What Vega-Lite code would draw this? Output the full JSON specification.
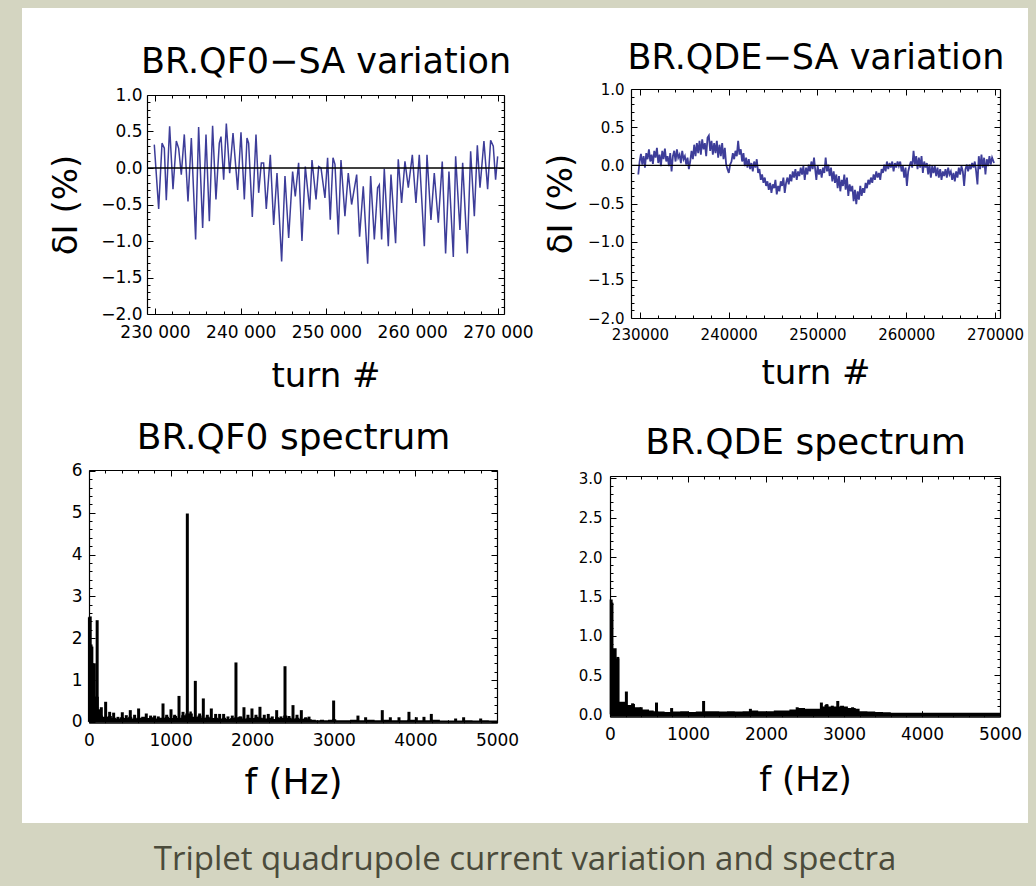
{
"$schema":"https://vega.github.io/schema/vega-lite/v6.json",
"width":1006,"height":815,
"autosize":{"type":"none"},
"padding":{"left":22,"top":8,"right":8,"bottom":63},
"background":"#d4d5c1",
"config":{"view":{"fill":"white","stroke":null},
 "axis":{"grid":false,"labelFont":"DejaVu Sans","titleFont":"DejaVu Sans","titleFontWeight":"normal","domainColor":"#000","tickColor":"#000","labelColor":"#000","titleColor":"#000","labelFlush":false,"labelOverlap":false,"tickWidth":1,"domainWidth":1.2}},
"title":{"text":"Triplet quadrupole current variation and spectra","orient":"bottom","frame":"group","anchor":"middle","offset":47,"baseline":"alphabetic","font":"Open Sans","fontSize":33,"fontWeight":"normal","color":"#4b4b3b"},
"datasets":{
"qf0":[{"t":229920,"v":0.32},{"t":230430,"v":-0.56},{"t":230820,"v":0.34},{"t":231090,"v":0.27},{"t":231320,"v":-0.44},{"t":231710,"v":0.57},{"t":232100,"v":-0.29},{"t":232490,"v":0.37},{"t":232760,"v":0.27},{"t":233070,"v":-0.09},{"t":233420,"v":0.46},{"t":233850,"v":-0.46},{"t":234240,"v":0.41},{"t":234740,"v":-0.98},{"t":235090,"v":0.56},{"t":235560,"v":-0.82},{"t":235950,"v":0.46},{"t":236340,"v":-0.73},{"t":236720,"v":0.58},{"t":237110,"v":-0.43},{"t":237500,"v":0.34},{"t":237700,"v":0.43},{"t":238010,"v":-0.16},{"t":238320,"v":0.61},{"t":238710,"v":-0.07},{"t":239100,"v":0.48},{"t":239640,"v":-0.3},{"t":240030,"v":0.49},{"t":240420,"v":-0.43},{"t":240730,"v":0.41},{"t":240920,"v":0.34},{"t":241350,"v":-0.67},{"t":241780,"v":0.46},{"t":242090,"v":-0.34},{"t":242400,"v":0.07},{"t":242670,"v":0.07},{"t":242980,"v":-0.56},{"t":243450,"v":0.18},{"t":243840,"v":-0.78},{"t":244230,"v":-0.07},{"t":244770,"v":-1.28},{"t":245160,"v":-0.11},{"t":245590,"v":-0.96},{"t":246050,"v":-0.05},{"t":246360,"v":-0.39},{"t":246750,"v":0.07},{"t":247140,"v":-1.0},{"t":247530,"v":0.02},{"t":248040,"v":-0.57},{"t":248310,"v":0.11},{"t":248780,"v":-0.43},{"t":249090,"v":0.02},{"t":249360,"v":0.0},{"t":249820,"v":-0.41},{"t":250130,"v":0.14},{"t":250440,"v":-0.71},{"t":250760,"v":0.14},{"t":250990,"v":0.05},{"t":251380,"v":-0.91},{"t":251690,"v":0.11},{"t":252150,"v":-0.66},{"t":252540,"v":-0.07},{"t":252930,"v":-0.5},{"t":253520,"v":-0.09},{"t":253860,"v":-0.94},{"t":254290,"v":-0.25},{"t":254800,"v":-1.31},{"t":255150,"v":-0.11},{"t":255580,"v":-0.98},{"t":255960,"v":-0.27},{"t":256160,"v":-0.23},{"t":256430,"v":-0.98},{"t":256740,"v":-0.01},{"t":257210,"v":-1.07},{"t":257520,"v":-0.09},{"t":258060,"v":-1.03},{"t":258370,"v":0.12},{"t":258760,"v":-0.48},{"t":259150,"v":0.09},{"t":259540,"v":-0.27},{"t":260010,"v":0.18},{"t":260430,"v":-0.48},{"t":260820,"v":0.18},{"t":261410,"v":-1.07},{"t":261720,"v":0.18},{"t":262180,"v":-0.71},{"t":262570,"v":-0.07},{"t":263040,"v":-0.75},{"t":263500,"v":0.09},{"t":263890,"v":-1.17},{"t":264280,"v":-0.05},{"t":264790,"v":-1.22},{"t":265060,"v":0.16},{"t":265560,"v":-0.85},{"t":265880,"v":0.07},{"t":266420,"v":-1.17},{"t":266810,"v":0.23},{"t":267240,"v":-0.66},{"t":267590,"v":0.31},{"t":267900,"v":-0.27},{"t":268360,"v":0.37},{"t":268790,"v":-0.29},{"t":269140,"v":0.38},{"t":269450,"v":0.3},{"t":269720,"v":-0.16},{"t":269960,"v":0.16}],
"qde":[{"t":229810,"v":-0.12},{"t":229960,"v":0.05},{"t":230110,"v":0.15},{"t":230260,"v":0.01},{"t":230410,"v":0.12},{"t":230560,"v":-0.03},{"t":230710,"v":0.16},{"t":230860,"v":0.08},{"t":231010,"v":0.21},{"t":231160,"v":0.05},{"t":231310,"v":0.14},{"t":231460,"v":0.02},{"t":231610,"v":0.19},{"t":231760,"v":0.1},{"t":231910,"v":0.23},{"t":232060,"v":0.03},{"t":232210,"v":0.14},{"t":232360,"v":-0.01},{"t":232510,"v":0.19},{"t":232660,"v":0.08},{"t":232810,"v":0.22},{"t":232960,"v":0.05},{"t":233110,"v":0.12},{"t":233260,"v":-0.01},{"t":233410,"v":0.16},{"t":233560,"v":-0.08},{"t":233710,"v":0.12},{"t":233860,"v":0.19},{"t":234010,"v":0.05},{"t":234160,"v":0.21},{"t":234310,"v":0.1},{"t":234460,"v":0.14},{"t":234610,"v":0.03},{"t":234760,"v":0.19},{"t":234910,"v":0.08},{"t":235060,"v":0.12},{"t":235210,"v":0.01},{"t":235360,"v":0.1},{"t":235510,"v":-0.05},{"t":235660,"v":0.05},{"t":235810,"v":0.19},{"t":235960,"v":0.08},{"t":236110,"v":0.27},{"t":236260,"v":0.12},{"t":236410,"v":0.29},{"t":236560,"v":0.16},{"t":236710,"v":0.32},{"t":236860,"v":0.14},{"t":237010,"v":0.34},{"t":237160,"v":0.21},{"t":237310,"v":0.29},{"t":237460,"v":0.12},{"t":237610,"v":0.36},{"t":237760,"v":0.39},{"t":237910,"v":0.19},{"t":238060,"v":0.32},{"t":238210,"v":0.14},{"t":238360,"v":0.29},{"t":238510,"v":0.16},{"t":238660,"v":0.32},{"t":238810,"v":0.1},{"t":238960,"v":0.27},{"t":239110,"v":0.12},{"t":239260,"v":0.29},{"t":239410,"v":0.08},{"t":239560,"v":0.23},{"t":239710,"v":0.01},{"t":239860,"v":-0.05},{"t":240010,"v":-0.1},{"t":240160,"v":0.01},{"t":240310,"v":0.05},{"t":240460,"v":0.16},{"t":240610,"v":0.08},{"t":240760,"v":0.19},{"t":240910,"v":0.12},{"t":241060,"v":0.32},{"t":241210,"v":0.14},{"t":241360,"v":0.21},{"t":241510,"v":0.05},{"t":241660,"v":0.16},{"t":241810,"v":-0.01},{"t":241960,"v":0.1},{"t":242110,"v":-0.03},{"t":242260,"v":0.08},{"t":242410,"v":-0.05},{"t":242560,"v":0.03},{"t":242710,"v":-0.08},{"t":242860,"v":0.05},{"t":243010,"v":-0.03},{"t":243160,"v":0.08},{"t":243310,"v":-0.1},{"t":243460,"v":-0.05},{"t":243610,"v":-0.19},{"t":243760,"v":-0.12},{"t":243910,"v":-0.23},{"t":244060,"v":-0.16},{"t":244210,"v":-0.27},{"t":244360,"v":-0.21},{"t":244510,"v":-0.32},{"t":244660,"v":-0.23},{"t":244810,"v":-0.36},{"t":244960,"v":-0.25},{"t":245110,"v":-0.3},{"t":245260,"v":-0.19},{"t":245410,"v":-0.38},{"t":245560,"v":-0.27},{"t":245710,"v":-0.34},{"t":245860,"v":-0.21},{"t":246010,"v":-0.27},{"t":246160,"v":-0.16},{"t":246310,"v":-0.36},{"t":246460,"v":-0.23},{"t":246610,"v":-0.16},{"t":246760,"v":-0.25},{"t":246910,"v":-0.12},{"t":247060,"v":-0.21},{"t":247210,"v":-0.08},{"t":247360,"v":-0.16},{"t":247510,"v":-0.05},{"t":247660,"v":-0.19},{"t":247810,"v":-0.08},{"t":247960,"v":-0.14},{"t":248110,"v":-0.03},{"t":248260,"v":-0.12},{"t":248410,"v":-0.01},{"t":248560,"v":-0.19},{"t":248710,"v":-0.03},{"t":248860,"v":-0.12},{"t":249010,"v":0.01},{"t":249160,"v":-0.08},{"t":249310,"v":0.05},{"t":249460,"v":-0.05},{"t":249610,"v":0.1},{"t":249720,"v":-0.03},{"t":249870,"v":-0.19},{"t":250020,"v":-0.01},{"t":250170,"v":-0.12},{"t":250320,"v":-0.05},{"t":250470,"v":-0.16},{"t":250620,"v":-0.03},{"t":250770,"v":-0.1},{"t":250920,"v":0.1},{"t":251070,"v":-0.08},{"t":251220,"v":0.01},{"t":251370,"v":-0.14},{"t":251520,"v":-0.03},{"t":251670,"v":-0.21},{"t":251820,"v":-0.08},{"t":251970,"v":-0.23},{"t":252120,"v":-0.12},{"t":252270,"v":-0.3},{"t":252420,"v":-0.14},{"t":252570,"v":-0.34},{"t":252720,"v":-0.19},{"t":252870,"v":-0.27},{"t":253020,"v":-0.12},{"t":253170,"v":-0.32},{"t":253320,"v":-0.16},{"t":253470,"v":-0.4},{"t":253620,"v":-0.25},{"t":253770,"v":-0.34},{"t":253920,"v":-0.27},{"t":254070,"v":-0.47},{"t":254220,"v":-0.32},{"t":254370,"v":-0.51},{"t":254520,"v":-0.34},{"t":254670,"v":-0.45},{"t":254820,"v":-0.27},{"t":254970,"v":-0.4},{"t":255120,"v":-0.3},{"t":255270,"v":-0.36},{"t":255420,"v":-0.23},{"t":255570,"v":-0.3},{"t":255720,"v":-0.19},{"t":255870,"v":-0.25},{"t":256020,"v":-0.16},{"t":256170,"v":-0.23},{"t":256320,"v":-0.12},{"t":256470,"v":-0.19},{"t":256620,"v":-0.08},{"t":256770,"v":-0.16},{"t":256920,"v":-0.1},{"t":257070,"v":-0.19},{"t":257220,"v":-0.05},{"t":257370,"v":-0.1},{"t":257520,"v":0.01},{"t":257670,"v":-0.08},{"t":257820,"v":0.05},{"t":257970,"v":-0.05},{"t":258120,"v":0.03},{"t":258270,"v":-0.03},{"t":258420,"v":0.05},{"t":258570,"v":-0.08},{"t":258720,"v":0.03},{"t":258870,"v":-0.03},{"t":259020,"v":0.05},{"t":259170,"v":-0.01},{"t":259320,"v":0.05},{"t":259470,"v":-0.08},{"t":259620,"v":-0.01},{"t":259770,"v":-0.16},{"t":259920,"v":-0.03},{"t":260070,"v":-0.27},{"t":260220,"v":-0.08},{"t":260370,"v":-0.01},{"t":260520,"v":0.05},{"t":260670,"v":-0.03},{"t":260820,"v":0.19},{"t":260970,"v":0.01},{"t":261120,"v":0.12},{"t":261270,"v":-0.05},{"t":261420,"v":0.1},{"t":261570,"v":-0.03},{"t":261720,"v":0.12},{"t":261870,"v":-0.1},{"t":262020,"v":0.05},{"t":262170,"v":-0.03},{"t":262320,"v":0.03},{"t":262470,"v":-0.12},{"t":262620,"v":0.01},{"t":262770,"v":-0.16},{"t":262920,"v":-0.01},{"t":263070,"v":-0.1},{"t":263220,"v":-0.01},{"t":263370,"v":-0.14},{"t":263520,"v":-0.03},{"t":263670,"v":-0.16},{"t":263820,"v":-0.05},{"t":263970,"v":-0.19},{"t":264120,"v":-0.08},{"t":264270,"v":-0.14},{"t":264420,"v":-0.05},{"t":264570,"v":-0.16},{"t":264720,"v":-0.03},{"t":264870,"v":-0.12},{"t":265020,"v":-0.08},{"t":265170,"v":-0.19},{"t":265320,"v":-0.1},{"t":265470,"v":-0.21},{"t":265620,"v":-0.08},{"t":265770,"v":-0.16},{"t":265920,"v":-0.03},{"t":266070,"v":-0.12},{"t":266220,"v":-0.01},{"t":266370,"v":-0.08},{"t":266520,"v":-0.27},{"t":266670,"v":-0.05},{"t":266820,"v":0.01},{"t":266970,"v":-0.08},{"t":267120,"v":0.01},{"t":267270,"v":-0.05},{"t":267420,"v":0.03},{"t":267570,"v":-0.03},{"t":267720,"v":0.05},{"t":267870,"v":-0.08},{"t":268020,"v":-0.25},{"t":268170,"v":0.12},{"t":268320,"v":-0.05},{"t":268470,"v":0.14},{"t":268620,"v":-0.03},{"t":268770,"v":0.1},{"t":268920,"v":-0.12},{"t":269070,"v":0.08},{"t":269220,"v":-0.01},{"t":269370,"v":0.12},{"t":269520,"v":0.01},{"t":269670,"v":0.1},{"t":269890,"v":0.03}],
"blSpikes":[{"f":5,"a":2.5},{"f":15,"a":2.52},{"f":25,"a":1.85},{"f":35,"a":1.8},{"f":45,"a":1.4},{"f":55,"a":1.1},{"f":65,"a":1.4},{"f":75,"a":0.6},{"f":85,"a":0.45},{"f":100,"a":2.43},{"f":125,"a":0.3},{"f":151,"a":0.35},{"f":204,"a":0.48},{"f":253,"a":0.24},{"f":302,"a":0.22},{"f":355,"a":0.12},{"f":408,"a":0.23},{"f":457,"a":0.16},{"f":506,"a":0.28},{"f":559,"a":0.17},{"f":608,"a":0.32},{"f":702,"a":0.2},{"f":755,"a":0.15},{"f":804,"a":0.15},{"f":849,"a":0.13},{"f":907,"a":0.44},{"f":952,"a":0.17},{"f":1005,"a":0.3},{"f":1050,"a":0.17},{"f":1103,"a":0.62},{"f":1152,"a":0.24},{"f":1205,"a":4.98},{"f":1254,"a":0.2},{"f":1303,"a":0.98},{"f":1356,"a":0.2},{"f":1401,"a":0.56},{"f":1450,"a":0.17},{"f":1499,"a":0.32},{"f":1552,"a":0.19},{"f":1601,"a":0.19},{"f":1650,"a":0.19},{"f":1703,"a":0.13},{"f":1756,"a":0.15},{"f":1801,"a":1.42},{"f":1854,"a":0.13},{"f":1899,"a":0.35},{"f":1948,"a":0.17},{"f":1997,"a":0.32},{"f":2046,"a":0.17},{"f":2095,"a":0.36},{"f":2148,"a":0.17},{"f":2197,"a":0.19},{"f":2246,"a":0.13},{"f":2300,"a":0.28},{"f":2353,"a":0.13},{"f":2402,"a":1.33},{"f":2451,"a":0.14},{"f":2500,"a":0.4},{"f":2549,"a":0.17},{"f":2602,"a":0.28},{"f":2655,"a":0.11},{"f":2696,"a":0.125},{"f":2998,"a":0.51},{"f":3296,"a":0.15},{"f":3390,"a":0.11},{"f":3594,"a":0.28},{"f":3693,"a":0.11},{"f":3799,"a":0.11},{"f":3921,"a":0.24},{"f":4011,"a":0.11},{"f":4105,"a":0.12},{"f":4195,"a":0.19},{"f":4493,"a":0.08},{"f":4591,"a":0.11},{"f":4800,"a":0.08}],
"blGrass":[{"f":0,"g":0.6},{"f":120,"g":0.15},{"f":170,"g":0.12},{"f":230,"g":0.14},{"f":280,"g":0.1},{"f":330,"g":0.08},{"f":380,"g":0.11},{"f":430,"g":0.09},{"f":480,"g":0.12},{"f":530,"g":0.08},{"f":580,"g":0.1},{"f":640,"g":0.12},{"f":690,"g":0.09},{"f":740,"g":0.11},{"f":800,"g":0.08},{"f":850,"g":0.1},{"f":930,"g":0.12},{"f":980,"g":0.09},{"f":1030,"g":0.14},{"f":1080,"g":0.1},{"f":1130,"g":0.16},{"f":1180,"g":0.2},{"f":1230,"g":0.25},{"f":1260,"g":0.12},{"f":1330,"g":0.15},{"f":1380,"g":0.1},{"f":1430,"g":0.12},{"f":1480,"g":0.09},{"f":1530,"g":0.1},{"f":1580,"g":0.08},{"f":1630,"g":0.1},{"f":1680,"g":0.07},{"f":1730,"g":0.09},{"f":1780,"g":0.11},{"f":1830,"g":0.12},{"f":1880,"g":0.08},{"f":1930,"g":0.1},{"f":1980,"g":0.09},{"f":2030,"g":0.12},{"f":2080,"g":0.1},{"f":2130,"g":0.08},{"f":2180,"g":0.1},{"f":2230,"g":0.07},{"f":2280,"g":0.11},{"f":2330,"g":0.09},{"f":2380,"g":0.15},{"f":2430,"g":0.1},{"f":2480,"g":0.08},{"f":2530,"g":0.1},{"f":2580,"g":0.07},{"f":2630,"g":0.09},{"f":2680,"g":0.06},{"f":2730,"g":0.05},{"f":2780,"g":0.04},{"f":2830,"g":0.05},{"f":2880,"g":0.04},{"f":2930,"g":0.05},{"f":2980,"g":0.06},{"f":3030,"g":0.04},{"f":3100,"g":0.04},{"f":3200,"g":0.05},{"f":3300,"g":0.04},{"f":3400,"g":0.05},{"f":3500,"g":0.04},{"f":3600,"g":0.05},{"f":3700,"g":0.04},{"f":3800,"g":0.04},{"f":3900,"g":0.05},{"f":4000,"g":0.04},{"f":4100,"g":0.04},{"f":4200,"g":0.05},{"f":4300,"g":0.03},{"f":4400,"g":0.03},{"f":4500,"g":0.03},{"f":4600,"g":0.04},{"f":4700,"g":0.03},{"f":4800,"g":0.04},{"f":4900,"g":0.03},{"f":5000,"g":0.03}],
"brSpikes":[{"f":15,"a":1.46},{"f":25,"a":1.42},{"f":100,"a":0.73},{"f":210,"a":0.29},{"f":290,"a":0.14},{"f":400,"a":0.09},{"f":596,"a":0.15},{"f":790,"a":0.08},{"f":1200,"a":0.17},{"f":1800,"a":0.07},{"f":2400,"a":0.09},{"f":2710,"a":0.15},{"f":2780,"a":0.13},{"f":2850,"a":0.11},{"f":2920,"a":0.17},{"f":3110,"a":0.09}],
"brGrass":[{"f":0,"g":1.3},{"f":35,"g":0.84},{"f":85,"g":0.71},{"f":120,"g":0.16},{"f":195,"g":0.12},{"f":230,"g":0.12},{"f":280,"g":0.13},{"f":320,"g":0.09},{"f":400,"g":0.06},{"f":500,"g":0.05},{"f":560,"g":0.04},{"f":620,"g":0.035},{"f":700,"g":0.03},{"f":800,"g":0.035},{"f":900,"g":0.04},{"f":1000,"g":0.03},{"f":1100,"g":0.035},{"f":1200,"g":0.04},{"f":1300,"g":0.04},{"f":1400,"g":0.035},{"f":1500,"g":0.04},{"f":1600,"g":0.035},{"f":1700,"g":0.04},{"f":1800,"g":0.05},{"f":1900,"g":0.04},{"f":2000,"g":0.04},{"f":2100,"g":0.05},{"f":2200,"g":0.05},{"f":2300,"g":0.06},{"f":2400,"g":0.08},{"f":2500,"g":0.07},{"f":2600,"g":0.07},{"f":2700,"g":0.1},{"f":2750,"g":0.12},{"f":2800,"g":0.1},{"f":2850,"g":0.1},{"f":2950,"g":0.11},{"f":3000,"g":0.1},{"f":3050,"g":0.08},{"f":3150,"g":0.07},{"f":3200,"g":0.04},{"f":3300,"g":0.035},{"f":3400,"g":0.03},{"f":3500,"g":0.025},{"f":3600,"g":0.02},{"f":4000,"g":0.02},{"f":4500,"g":0.02},{"f":5000,"g":0.02}]
},
"layer":[
{"layer":[
 {"data":{"name":"qf0"},
  "mark":{"type":"line","color":"#3d3d99","strokeWidth":1.5},
  "encoding":{
   "x":{"field":"t","type":"quantitative","scale":{"domain":[229070,270700],"range":[125,482],"nice":false,"zero":false},
    "axis":{"orient":"bottom","offset":-509,"values":[230000,232000,234000,236000,238000,240000,242000,244000,246000,248000,250000,252000,254000,256000,258000,260000,262000,264000,266000,268000,270000],
     "labelExpr":"datum.value % 10000 === 0 ? replace(format(datum.value, ','), ',', ' ') : ''",
     "tickSize":{"condition":{"test":"datum.value % 10000 === 0","value":-6},"value":-3},
     "labelPadding":16,"labelFontSize":17,"title":"turn #","titleFontSize":34,"titleBaseline":"alphabetic","titleY":72.7}},
   "y":{"field":"v","type":"quantitative","scale":{"domain":[-2,1],"range":[306,87],"nice":false,"zero":false},
    "axis":{"orient":"left","offset":-125,"values":[-2,-1.9,-1.8,-1.7,-1.6,-1.5,-1.4,-1.3,-1.2,-1.1,-1,-0.9,-0.8,-0.7,-0.6,-0.5,-0.4,-0.3,-0.2,-0.1,0,0.1,0.2,0.3,0.4,0.5,0.6,0.7,0.8,0.9,1],
     "labelExpr":"abs(datum.value * 2 - round(datum.value * 2)) < 0.001 ? format(datum.value, '.1f') : ''",
     "tickSize":{"condition":{"test":"abs(datum.value * 2 - round(datum.value * 2)) < 0.001","value":-6},"value":-3},
     "labelPadding":11,"labelFontSize":17,"title":"δI (%)","titleFontSize":34,"titleX":-81,"titleBaseline":"middle"}}
  }},
 {"data":{"values":[{}]},
  "mark":{"type":"rule","color":"black","strokeWidth":1.3},
  "encoding":{
   "x":{"datum":229070,"type":"quantitative",
    "axis":{"orient":"top","offset":-87,"values":[230000,232000,234000,236000,238000,240000,242000,244000,246000,248000,250000,252000,254000,256000,258000,260000,262000,264000,266000,268000,270000],"labels":false,
     "tickSize":{"condition":{"test":"datum.value % 10000 === 0","value":-6},"value":-3},
     "title":"BR.QF0−SA variation","titleFontSize":35,"titleBaseline":"alphabetic","titleY":-22.3}},
   "x2":{"datum":270700},
   "y":{"datum":0,"type":"quantitative",
    "axis":{"orient":"right","offset":-524,"values":[-2,-1.9,-1.8,-1.7,-1.6,-1.5,-1.4,-1.3,-1.2,-1.1,-1,-0.9,-0.8,-0.7,-0.6,-0.5,-0.4,-0.3,-0.2,-0.1,0,0.1,0.2,0.3,0.4,0.5,0.6,0.7,0.8,0.9,1],"labels":false,
     "tickSize":{"condition":{"test":"abs(datum.value * 2 - round(datum.value * 2)) < 0.001","value":-6},"value":-3},"title":null}}
  }}
]},
{"layer":[
 {"data":{"name":"qde"},
  "mark":{"type":"line","color":"#3d3d99","strokeWidth":1.8},
  "encoding":{
   "x":{"field":"t","type":"quantitative","scale":{"domain":[228990,270560],"range":[609,978],"nice":false,"zero":false},
    "axis":{"orient":"bottom","offset":-505,"values":[230000,232000,234000,236000,238000,240000,242000,244000,246000,248000,250000,252000,254000,256000,258000,260000,262000,264000,266000,268000,270000],
     "labelExpr":"datum.value % 10000 === 0 ? format(datum.value, 'd') : ''",
     "tickSize":{"condition":{"test":"datum.value % 10000 === 0","value":-6},"value":-3},
     "labelPadding":15,"labelFontSize":15,"title":"turn #","titleFontSize":34,"titleBaseline":"alphabetic","titleY":65}},
   "y":{"field":"v","type":"quantitative","scale":{"domain":[-2,1],"range":[310,81],"nice":false,"zero":false},
    "axis":{"orient":"left","offset":-609,"values":[-2,-1.9,-1.8,-1.7,-1.6,-1.5,-1.4,-1.3,-1.2,-1.1,-1,-0.9,-0.8,-0.7,-0.6,-0.5,-0.4,-0.3,-0.2,-0.1,0,0.1,0.2,0.3,0.4,0.5,0.6,0.7,0.8,0.9,1],
     "labelExpr":"abs(datum.value * 2 - round(datum.value * 2)) < 0.001 ? format(datum.value, '.1f') : ''",
     "tickSize":{"condition":{"test":"abs(datum.value * 2 - round(datum.value * 2)) < 0.001","value":-6},"value":-3},
     "labelPadding":13,"labelFontSize":15,"title":"δI (%)","titleFontSize":34,"titleX":-70,"titleBaseline":"middle"}}
  }},
 {"data":{"values":[{}]},
  "mark":{"type":"rule","color":"black","strokeWidth":1.3},
  "encoding":{
   "x":{"datum":228990,"type":"quantitative",
    "axis":{"orient":"top","offset":-81,"values":[230000,232000,234000,236000,238000,240000,242000,244000,246000,248000,250000,252000,254000,256000,258000,260000,262000,264000,266000,268000,270000],"labels":false,
     "tickSize":{"condition":{"test":"datum.value % 10000 === 0","value":-6},"value":-3},
     "title":"BR.QDE−SA variation","titleFontSize":35,"titleBaseline":"alphabetic","titleY":-20.7}},
   "x2":{"datum":270560},
   "y":{"datum":0,"type":"quantitative",
    "axis":{"orient":"right","offset":-28,"values":[-2,-1.9,-1.8,-1.7,-1.6,-1.5,-1.4,-1.3,-1.2,-1.1,-1,-0.9,-0.8,-0.7,-0.6,-0.5,-0.4,-0.3,-0.2,-0.1,0,0.1,0.2,0.3,0.4,0.5,0.6,0.7,0.8,0.9,1],"labels":false,
     "tickSize":{"condition":{"test":"abs(datum.value * 2 - round(datum.value * 2)) < 0.001","value":-6},"value":-3},"title":null}}
  }}
]},
{"layer":[
 {"data":{"name":"blGrass"},
  "mark":{"type":"area","color":"black","interpolate":"step-after"},
  "encoding":{
   "x":{"field":"f","type":"quantitative","scale":{"domain":[0,5000],"range":[67,475],"nice":false,"zero":false},
    "axis":{"orient":"bottom","offset":-100.3,"values":[0,200,400,600,800,1000,1200,1400,1600,1800,2000,2200,2400,2600,2800,3000,3200,3400,3600,3800,4000,4200,4400,4600,4800,5000],
     "labelExpr":"datum.value % 1000 === 0 ? format(datum.value, 'd') : ''",
     "tickSize":{"condition":{"test":"datum.value % 1000 === 0","value":-6},"value":-3},
     "labelPadding":16,"labelFontSize":17,"title":"f (Hz)","titleFontSize":36,"titleBaseline":"alphabetic","titleY":70.3}},
   "y":{"field":"g","type":"quantitative","scale":{"domain":[-0.02,6.02],"range":[714.7,462],"nice":false,"zero":false},
    "axis":{"orient":"left","offset":-67,"values":[0,0.2,0.4,0.6,0.8,1,1.2,1.4,1.6,1.8,2,2.2,2.4,2.6,2.8,3,3.2,3.4,3.6,3.8,4,4.2,4.4,4.6,4.8,5,5.2,5.4,5.6,5.8,6],
     "labelExpr":"abs(datum.value - round(datum.value)) < 0.001 ? format(datum.value, 'd') : ''",
     "tickSize":{"condition":{"test":"abs(datum.value - round(datum.value)) < 0.001","value":-6},"value":-3},
     "labelPadding":13,"labelFontSize":17,"title":null}},
   "y2":{"datum":-0.02}
  }},
 {"data":{"name":"blSpikes"},
  "mark":{"type":"rule","color":"black","strokeWidth":3},
  "encoding":{
   "x":{"field":"f","type":"quantitative",
    "axis":{"orient":"top","offset":-462,"values":[0,200,400,600,800,1000,1200,1400,1600,1800,2000,2200,2400,2600,2800,3000,3200,3400,3600,3800,4000,4200,4400,4600,4800,5000],"labels":false,
     "tickSize":{"condition":{"test":"datum.value % 1000 === 0","value":-6},"value":-3},
     "title":"BR.QF0 spectrum","titleFontSize":36,"titleBaseline":"alphabetic","titleY":-21.7}},
   "y":{"field":"a","type":"quantitative",
    "axis":{"orient":"right","offset":-531,"values":[0,0.2,0.4,0.6,0.8,1,1.2,1.4,1.6,1.8,2,2.2,2.4,2.6,2.8,3,3.2,3.4,3.6,3.8,4,4.2,4.4,4.6,4.8,5,5.2,5.4,5.6,5.8,6],"labels":false,
     "tickSize":{"condition":{"test":"abs(datum.value - round(datum.value)) < 0.001","value":-6},"value":-3},"title":null}},
   "y2":{"datum":0}
  }}
]},
{"layer":[
 {"data":{"name":"brGrass"},
  "mark":{"type":"area","color":"black","interpolate":"step-after"},
  "encoding":{
   "x":{"field":"f","type":"quantitative","scale":{"domain":[0,5000],"range":[588,978],"nice":false,"zero":false},
    "axis":{"orient":"bottom","offset":-106.3,"values":[0,200,400,600,800,1000,1200,1400,1600,1800,2000,2200,2400,2600,2800,3000,3200,3400,3600,3800,4000,4200,4400,4600,4800,5000],
     "labelExpr":"datum.value % 1000 === 0 ? format(datum.value, 'd') : ''",
     "tickSize":{"condition":{"test":"datum.value % 1000 === 0","value":-6},"value":-3},
     "labelPadding":16,"labelFontSize":17,"title":"f (Hz)","titleFontSize":34,"titleBaseline":"alphabetic","titleY":73.3}},
   "y":{"field":"g","type":"quantitative","scale":{"domain":[-0.03,3.03],"range":[708.7,468],"nice":false,"zero":false},
    "axis":{"orient":"left","offset":-588,"values":[0,0.1,0.2,0.3,0.4,0.5,0.6,0.7,0.8,0.9,1,1.1,1.2,1.3,1.4,1.5,1.6,1.7,1.8,1.9,2,2.1,2.2,2.3,2.4,2.5,2.6,2.7,2.8,2.9,3],
     "labelExpr":"abs(datum.value * 2 - round(datum.value * 2)) < 0.001 ? format(datum.value, '.1f') : ''",
     "tickSize":{"condition":{"test":"abs(datum.value * 2 - round(datum.value * 2)) < 0.001","value":-6},"value":-3},
     "labelPadding":14,"labelFontSize":15,"title":null}},
   "y2":{"datum":-0.03}
  }},
 {"data":{"name":"brSpikes"},
  "mark":{"type":"rule","color":"black","strokeWidth":3},
  "encoding":{
   "x":{"field":"f","type":"quantitative",
    "axis":{"orient":"top","offset":-468,"values":[0,200,400,600,800,1000,1200,1400,1600,1800,2000,2200,2400,2600,2800,3000,3200,3400,3600,3800,4000,4200,4400,4600,4800,5000],"labels":false,
     "tickSize":{"condition":{"test":"datum.value % 1000 === 0","value":-6},"value":-3},
     "title":"BR.QDE spectrum","titleFontSize":36,"titleBaseline":"alphabetic","titleY":-22.7}},
   "y":{"field":"a","type":"quantitative",
    "axis":{"orient":"right","offset":-28,"values":[0,0.1,0.2,0.3,0.4,0.5,0.6,0.7,0.8,0.9,1,1.1,1.2,1.3,1.4,1.5,1.6,1.7,1.8,1.9,2,2.1,2.2,2.3,2.4,2.5,2.6,2.7,2.8,2.9,3],"labels":false,
     "tickSize":{"condition":{"test":"abs(datum.value * 2 - round(datum.value * 2)) < 0.001","value":-6},"value":-3},"title":null}},
   "y2":{"datum":0}
  }}
]}
],
"resolve":{"scale":{"x":"independent","y":"independent"},"axis":{"x":"independent","y":"independent"}}
}
